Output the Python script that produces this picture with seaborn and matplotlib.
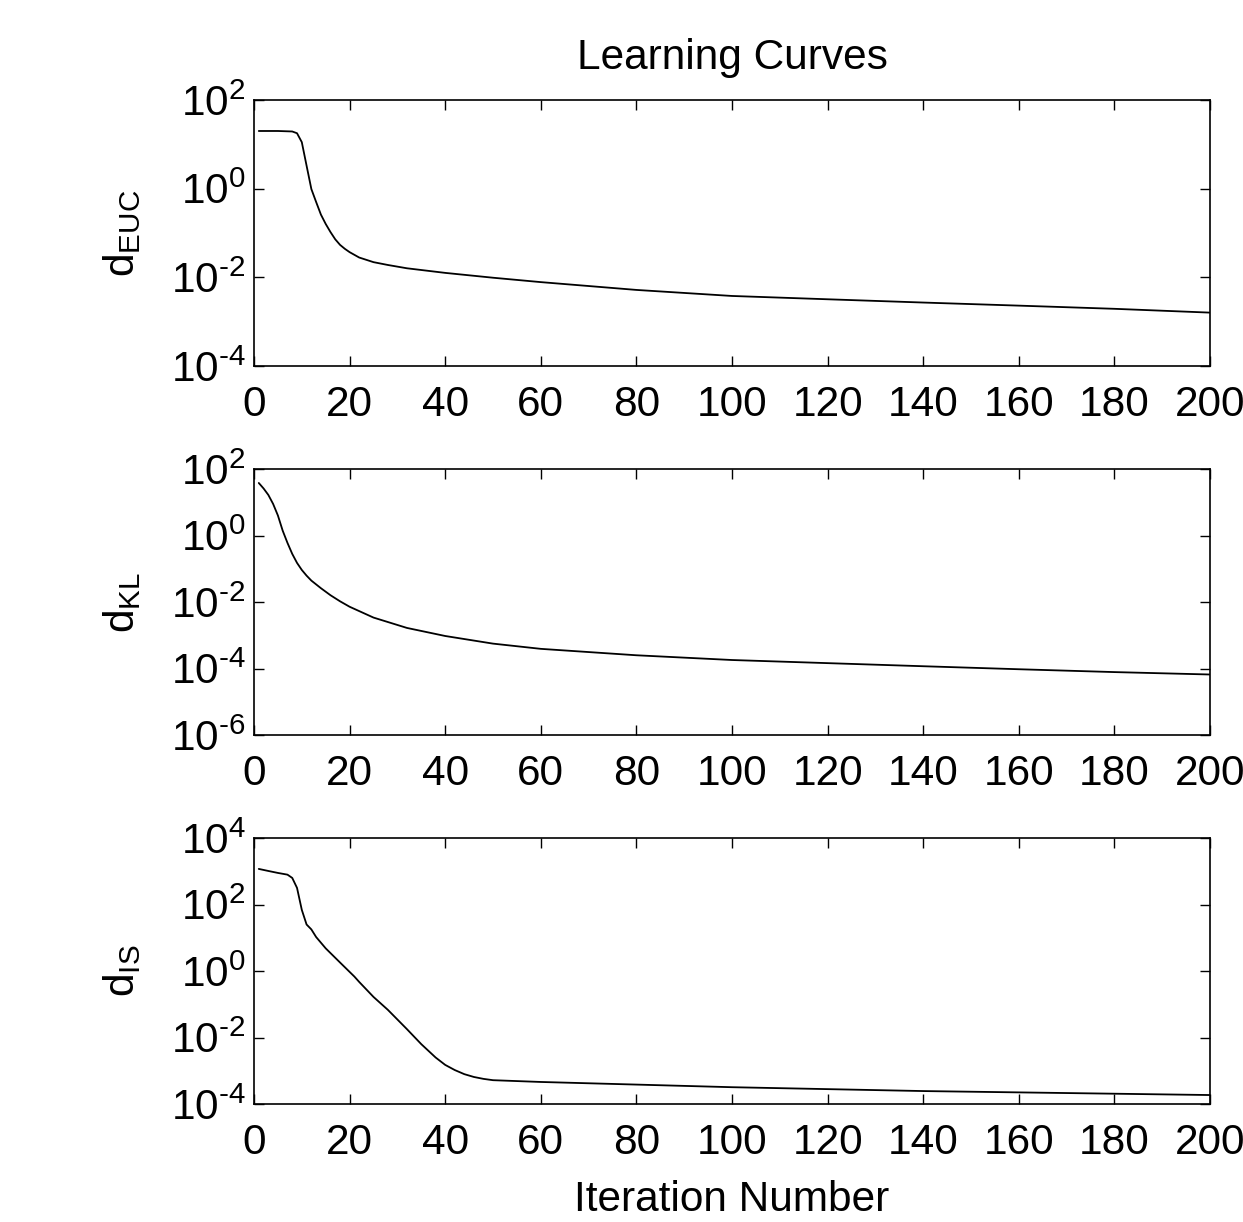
import numpy as np
import pandas as pd
import matplotlib
matplotlib.use("Agg")
import matplotlib.pyplot as plt
import matplotlib.ticker as mticker
import seaborn as sns

# ---- data ----
iter_euc = [1, 5, 8, 9, 10, 11, 12, 13, 14, 15, 16, 17, 18, 19, 20, 22, 25, 28, 32, 40, 50, 60, 80, 100,
            120, 140, 160, 180, 200]
d_euc = [20, 20, 19.5, 17.8, 11.2, 3.3, 0.98, 0.5, 0.26, 0.16, 0.105, 0.072, 0.054, 0.044, 0.037, 0.028,
         0.022, 0.019, 0.016, 0.0126, 0.0098, 0.0078, 0.0052, 0.0038, 0.0032, 0.0027, 0.0023, 0.00195, 0.0016]

iter_kl = [1, 2, 3, 4, 5, 6, 7, 8, 9, 10, 11, 12, 14, 16, 18, 20, 25, 32, 40, 50, 60, 80, 100, 120, 140,
           160, 180, 200]
d_kl = [38, 26, 16.6, 8.9, 4.0, 1.4, 0.6, 0.28, 0.15, 0.092, 0.062, 0.044, 0.026, 0.016, 0.0105, 0.0072,
        0.0034, 0.00166, 0.00095, 5.6e-4, 3.9e-4, 2.5e-4, 1.8e-4, 1.45e-4, 1.17e-4, 9.5e-5, 7.8e-5, 6.6e-5]

iter_is = [1, 3, 5, 7, 8, 9, 10, 11, 12, 13, 15, 18, 21, 22, 25, 28, 32, 35, 38, 40, 42, 44, 46, 48, 50,
           60, 100, 140, 200]
d_is = [1175, 1020, 890, 790, 630, 316, 69, 25, 17.8, 10.5, 4.8, 1.8, 0.68, 0.47, 0.166, 0.068, 0.0178,
        0.0063, 0.0025, 0.0015, 0.00105, 7.9e-4, 6.5e-4, 5.7e-4, 5.2e-4, 4.6e-4, 3.2e-4, 2.45e-4, 1.86e-4]

x_ticks = [0, 20, 40, 60, 80, 100, 120, 140, 160, 180, 200]
panels = [
    ("d_{EUC}", iter_euc, d_euc, (1e-4, 1e2), [1e-4, 1e-2, 1e0, 1e2]),
    ("d_{KL}", iter_kl, d_kl, (1e-6, 1e2), [1e-6, 1e-4, 1e-2, 1e0, 1e2]),
    ("d_{IS}", iter_is, d_is, (1e-4, 1e4), [1e-4, 1e-2, 1e0, 1e2, 1e4]),
]
title = "Learning Curves"
xlabel = "Iteration Number"

# ---- style ----
sns.set_style("ticks")
plt.rcParams["font.family"] = ["Liberation Sans", "DejaVu Sans"]
plt.rcParams["mathtext.fontset"] = "custom"
plt.rcParams["mathtext.rm"] = "Liberation Sans"
plt.rcParams["mathtext.it"] = "Liberation Sans"
plt.rcParams["mathtext.default"] = "regular"
plt.rcParams["text.color"] = "black"
plt.rcParams["axes.labelcolor"] = "black"
plt.rcParams["axes.unicode_minus"] = False

FS = 30.5


def exp_label(v, p):
    e = int(round(np.log10(v)))
    if e < 0:
        return r"$10^{\text{-}%d}$" % (-e)
    return r"$10^{%d}$" % e


fig = plt.figure(figsize=(12.43, 12.22), dpi=100)
W, H = 1243, 1222
left, right = 254, 1210
tops = [100, 469, 838]
height = 266

for (lab, xs, ys, ylim, yt), top in zip(panels, tops):
    ax = fig.add_axes([left / W, 1 - (top + height) / H, (right - left) / W, height / H])
    df = pd.DataFrame({"x": xs, "y": ys})
    sns.lineplot(data=df, x="x", y="y", ax=ax, color="black", linewidth=1.3)
    ax.set_yscale("log")
    ax.set_xlim(0, 200)
    ax.set_ylim(*ylim)
    ax.set_xticks(x_ticks)
    ax.set_yticks(yt)
    ax.yaxis.set_minor_locator(mticker.NullLocator())
    ax.yaxis.set_major_formatter(mticker.FuncFormatter(exp_label))
    ax.tick_params(axis="both", which="major", direction="in", length=7, width=1.0,
                   top=True, right=True, labelsize=FS, colors="black")
    ax.tick_params(axis="x", pad=14)
    ax.tick_params(axis="y", pad=6)
    for s in ax.spines.values():
        s.set_linewidth(1.2)
        s.set_color("black")
    ax.set_xlabel("")
    ax.set_ylabel(r"$%s$" % lab, fontsize=FS, labelpad=20)
    ax.grid(False)
    if top == tops[0]:
        ax.set_title(title, fontsize=FS, pad=22)
    if top == tops[-1]:
        ax.set_xlabel(xlabel, fontsize=FS, labelpad=12)

fig.savefig("out.png", dpi=100)
